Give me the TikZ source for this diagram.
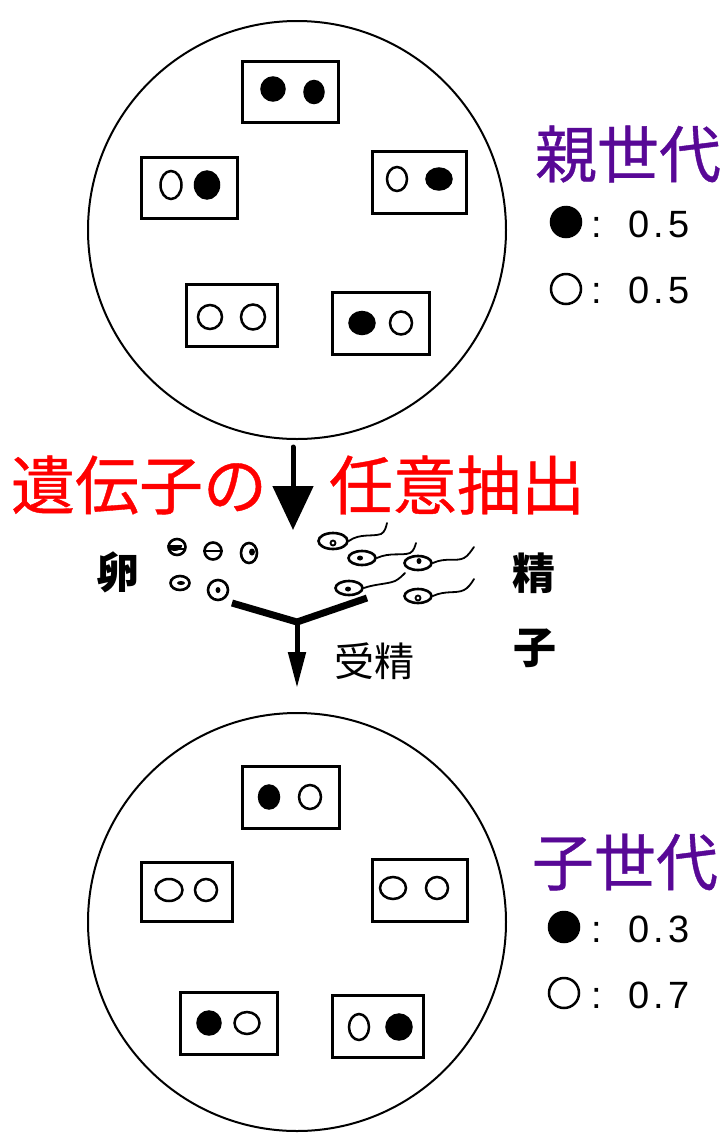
\documentclass[tikz,border=0pt]{standalone}
\usepackage{fontspec}
\setmainfont{Liberation Sans}
\newfontfamily\jp{Noto Sans CJK JP}
\newfontfamily\jpmid[FakeBold=0.6]{Noto Sans CJK JP}
\usetikzlibrary{shapes.geometric,arrows.meta}
\definecolor{gen}{RGB}{88,8,150}
\tikzset{
  pool/.style={circle,draw,line width=2,minimum size=418,inner sep=0},
  cellbox/.style={rectangle,draw,line width=3,minimum width=96,minimum height=61,inner sep=0},
  full/.style={ellipse,draw,fill=black,line width=1.5,inner sep=0},
  empty/.style={ellipse,draw,line width=2.5,inner sep=0},
  gentitle/.style={text=gen,font=\jpmid\fontsize{62}{70}\selectfont,inner sep=0},
  redtext/.style={text=red,font=\jpmid\fontsize{64}{72}\selectfont,inner sep=0},
  gamlabel/.style={font=\jp\bfseries\fontsize{43}{50}\selectfont,inner sep=0},
  num/.style={font=\fontsize{38}{44}\selectfont,inner sep=0},
  legdot/.style={circle,draw,line width=2.5,minimum size=30,inner sep=0},
  egg/.style={ellipse,draw,line width=2.6,inner sep=0},
  nucleus/.style={ellipse,fill=black,inner sep=0},
  tail/.style={line width=1.8,line cap=round},
  yarm/.style={line width=7},
}
\begin{document}
\begin{tikzpicture}[x=1pt,y=-1pt]
\useasboundingbox (0,0) rectangle (727,1136);

% ---------- parent generation ----------
\node[pool] (parent) at (297,230) {};
\node[cellbox] (p1) at (290,91.5) {};
\node[full,minimum width=24,minimum height=24] (p1a) at (273,89) {};
\node[full,minimum width=20,minimum height=23] (p1b) at (314,92) {};
\node[cellbox] (p2) at (189,188) {};
\node[empty,minimum width=21,minimum height=28] (p2a) at (171,185) {};
\node[full,minimum width=25,minimum height=28] (p2b) at (207,185) {};
\node[cellbox,minimum width=94,minimum height=62] (p3) at (419,182) {};
\node[empty,minimum width=20,minimum height=24] (p3a) at (397,179) {};
\node[full,minimum width=26,minimum height=22] (p3b) at (439,179) {};
\node[cellbox,minimum width=91,minimum height=62] (p4) at (231.5,315) {};
\node[empty,minimum width=24,minimum height=24] (p4a) at (210,317) {};
\node[empty,minimum width=24,minimum height=25] (p4b) at (253,317) {};
\node[cellbox,minimum width=97,minimum height=62] (p5) at (380.5,323) {};
\node[full,minimum width=26,minimum height=23] (p5a) at (362,323) {};
\node[empty,minimum width=22,minimum height=23] (p5b) at (401,323) {};

\node[gentitle] (ptitle) at (628,154) {親世代};
\node[legdot,fill=black] (pk1) at (566,222) {};
\node[num,anchor=base] (pc1) at (597,237) {:};
\node[num,anchor=base west] (pv1) at (628,237) {0\kern4.5pt.\kern4.5pt5};
\node[legdot] (pk2) at (566,289) {};
\node[num,anchor=base] (pc2) at (597,303) {:};
\node[num,anchor=base west] (pv2) at (628,303) {0\kern4.5pt.\kern4.5pt5};

% ---------- random sampling ----------
\node[redtext] (rt1) at (139,485) {遺伝子の};
\node[redtext] (rt2) at (457,485) {任意抽出};
\coordinate (arrtop) at (293,447);
\coordinate (arrtip) at (293,530);
\draw[line width=5,line cap=round,-{Triangle[width=40,length=44]}] (arrtop) -- (arrtip);

% eggs
\node[gamlabel] (eggl) at (118,572) {卵};
\node[egg,minimum width=17,minimum height=16] (e1) at (177,547) {};
\draw[line width=2] ([xshift=-7,yshift=-2]e1.center) -- ([xshift=7,yshift=-2]e1.center);
\fill (e1.west) ++(0,-2) arc[start angle=180,end angle=0,x radius=7.5,y radius=6];
\node[egg,minimum width=17,minimum height=17] (e2) at (213,551) {};
\draw[line width=2.5] (e2.west) -- (e2.east);
\node[egg,minimum width=16,minimum height=20] (e3) at (249,553) {};
\node[nucleus,minimum width=6,minimum height=7] at (252,552) {};
\node[egg,minimum width=19,minimum height=14] (e4) at (180,583) {};
\node[nucleus,minimum width=8,minimum height=4] at (181,583) {};
\node[egg,minimum width=20,minimum height=20] (e5) at (218,590) {};
\node[nucleus,minimum width=5,minimum height=6] at (218,590) {};

% sperm
\node[gamlabel] (spl1) at (534,573) {精};
\node[gamlabel] (spl2) at (535,648) {子};
\node[egg,minimum width=29,minimum height=16] (s1) at (333,541) {};
\draw[line width=1.8] (333,543) circle[radius=2.5];
\draw[tail] (s1.east) .. controls (360,533) and (372,537) .. (381,534) .. controls (385,532) and (386,527) .. (387,523);
\node[egg,minimum width=27,minimum height=14] (s2) at (362,558) {};
\node[nucleus,minimum width=6,minimum height=5] at (360,558) {};
\draw[tail] (s2.east) .. controls (390,552) and (402,556) .. (410,553) .. controls (414,551) and (415,546) .. (416,543);
\node[egg,minimum width=27,minimum height=14] (s3) at (418,563) {};
\node[nucleus,minimum width=5,minimum height=6] at (419,561) {};
\draw[tail] (s3.east) .. controls (446,557) and (456,562) .. (464,558) .. controls (468,556) and (471,551) .. (474,547);
\node[egg,minimum width=27,minimum height=14] (s4) at (349,588) {};
\node[nucleus,minimum width=6,minimum height=5] at (348,589) {};
\draw[tail] (s4.east) .. controls (375,584) and (388,584) .. (395,581) .. controls (399,579) and (402,576) .. (405,573);
\node[egg,minimum width=27,minimum height=14] (s5) at (418,596) {};
\draw[line width=1.8] (418,598) circle[radius=2.5];
\draw[tail] (s5.east) .. controls (446,590) and (456,594) .. (464,590) .. controls (468,588) and (471,584) .. (474,579);

% fertilisation
\coordinate (ya) at (232,603);
\coordinate (yb) at (367,598);
\coordinate (yj) at (297,622);
\coordinate (ytip) at (297,688);
\draw[yarm] (ya) -- (yj) -- (yb);
\draw[line width=5,-{Triangle[width=17,length=36]}] (yj) -- (ytip);
\node[font=\jp\fontsize{40}{46}\selectfont,inner sep=0] (fert) at (374,661) {受精};

% ---------- offspring generation ----------
\node[pool] (child) at (297,922) {};
\node[cellbox,minimum width=97,minimum height=62] (c1) at (290.5,797) {};
\node[full,minimum width=21,minimum height=24] (c1a) at (269,797) {};
\node[empty,minimum width=22,minimum height=24] (c1b) at (310,797) {};
\node[cellbox,minimum width=91,minimum height=59] (c2) at (186.5,891.5) {};
\node[empty,minimum width=27,minimum height=22] (c2a) at (169,890) {};
\node[empty,minimum width=22,minimum height=22] (c2b) at (206,890) {};
\node[cellbox,minimum width=95,minimum height=62] (c3) at (419.5,890) {};
\node[empty,minimum width=26,minimum height=22] (c3a) at (393,888) {};
\node[empty,minimum width=22,minimum height=22] (c3b) at (437,888) {};
\node[cellbox,minimum width=97,minimum height=62] (c4) at (228.5,1023) {};
\node[full,minimum width=24,minimum height=24] (c4a) at (209,1023) {};
\node[empty,minimum width=25,minimum height=22] (c4b) at (247,1023) {};
\node[cellbox,minimum width=91,minimum height=62] (c5) at (377.5,1026) {};
\node[empty,minimum width=20,minimum height=26] (c5a) at (359,1027) {};
\node[full,minimum width=26,minimum height=26] (c5b) at (399,1027) {};

\node[gentitle] (ctitle) at (625,862) {子世代};
\node[legdot,fill=black] (ck1) at (564,927) {};
\node[num,anchor=base] (cc1) at (597,942) {:};
\node[num,anchor=base west] (cv1) at (628,942) {0\kern4.5pt.\kern4.5pt3};
\node[legdot] (ck2) at (564,993) {};
\node[num,anchor=base] (cc2) at (597,1008) {:};
\node[num,anchor=base west] (cv2) at (628,1008) {0\kern4.5pt.\kern4.5pt7};
\end{tikzpicture}
\end{document}
